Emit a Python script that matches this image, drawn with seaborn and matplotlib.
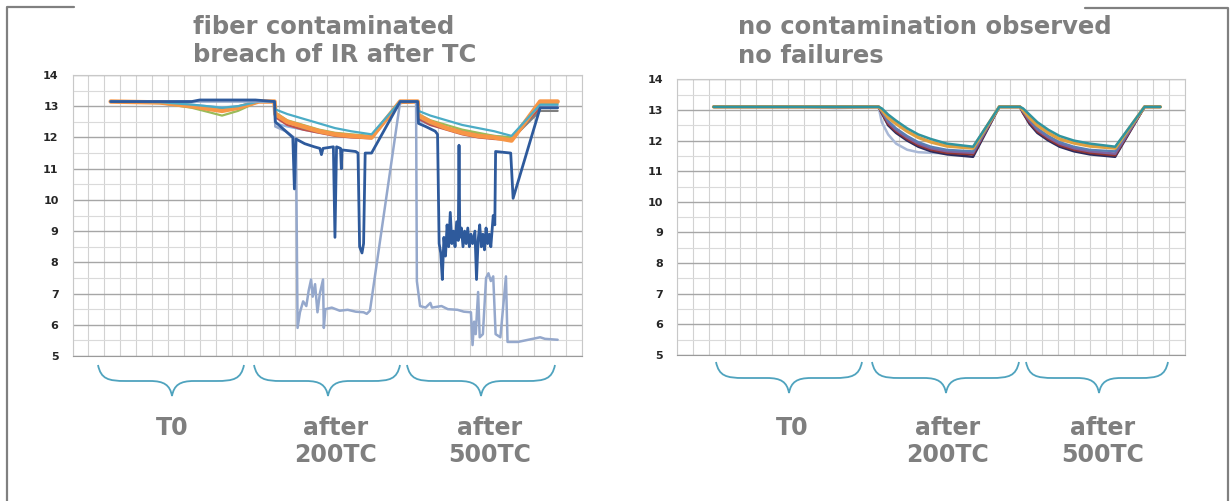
import matplotlib

matplotlib.use("Agg")

import matplotlib.pyplot as plt
import pandas as pd
import seaborn as sns
from matplotlib.lines import Line2D
from matplotlib.patches import PathPatch
from matplotlib.path import Path
from matplotlib.ticker import MultipleLocator

W, H = 1231, 501

# ---- left chart: normal fibres, shared sample positions ----
LEFT_X = [2.4, 5.5, 7.5, 8.5, 9.4, 10.4, 11.7, 12.7,
          12.75, 13.5, 14.5, 15.5, 16.5, 17.5, 18.8, 20.6, 21.7,
          21.75, 22.5, 23.5, 24.5, 25.5, 26.5, 27.6, 29.4, 30.5]
LEFT_LIGHTBLUE = [13.15, 13.13, 13.05, 13.0, 12.96, 13.0, 13.15, 13.15,
                  12.45, 12.35, 12.25, 12.15, 12.1, 12.05, 12.0, 13.1, 13.15,
                  12.55, 12.4, 12.3, 12.2, 12.1, 12.05, 12.0, 13.0, 13.0]
LEFT_RED = [13.15, 13.12, 13.02, 12.95, 12.9, 12.97, 13.15, 13.15,
            12.65, 12.4, 12.25, 12.15, 12.05, 12.0, 11.97, 13.1, 13.15,
            12.6, 12.4, 12.25, 12.1, 12.0, 11.95, 11.92, 12.95, 12.95]
LEFT_GRAY = [13.15, 13.12, 13.03, 12.97, 12.92, 12.98, 13.15, 13.15,
             12.7, 12.5, 12.3, 12.2, 12.1, 12.05, 12.0, 13.1, 13.15,
             12.65, 12.45, 12.3, 12.2, 12.1, 12.0, 11.95, 12.85, 12.85]
LEFT_GREEN = [13.15, 13.1, 12.95, 12.82, 12.7, 12.85, 13.15, 13.15,
              12.8, 12.55, 12.4, 12.25, 12.15, 12.1, 12.05, 13.15, 13.15,
              12.75, 12.55, 12.4, 12.25, 12.15, 12.05, 12.0, 13.1, 13.1]
LEFT_ORANGE = [13.15, 13.12, 13.0, 12.92, 12.85, 12.95, 13.15, 13.15,
               12.75, 12.5, 12.35, 12.2, 12.1, 12.05, 12.0, 13.15, 13.15,
               12.7, 12.5, 12.3, 12.15, 12.05, 12.0, 11.9, 13.15, 13.15]
LEFT_TEAL = [13.15, 13.13, 13.05, 13.0, 12.95, 13.0, 13.15, 13.15,
             12.9, 12.75, 12.6, 12.45, 12.3, 12.2, 12.1, 13.15, 13.15,
             12.85, 12.7, 12.55, 12.4, 12.3, 12.2, 12.05, 13.05, 13.05]

# ---- left chart: failing fibres ----
DARK_X = [2.4, 7.5, 8.0, 11.5, 12.7,
          12.75, 13.3, 13.85, 13.95, 14.05, 14.6, 15.2, 15.55, 15.65, 15.75,
          16.4, 16.5, 16.6, 16.85, 16.9, 16.95, 17.8, 17.95, 18.05, 18.2,
          18.3, 18.4, 18.8, 20.6, 21.7,
          21.75, 22.2, 22.8, 22.95, 23.05, 23.15, 23.25, 23.35, 23.45, 23.55,
          23.65, 23.75, 23.85, 23.95, 24.05, 24.15, 24.25, 24.3, 24.35, 24.45,
          24.55, 24.65, 24.75, 24.85, 24.95, 25.05, 25.15, 25.3, 25.4, 25.5,
          25.6, 25.7, 25.8, 25.9, 26.0, 26.1, 26.2, 26.3, 26.45, 26.55,
          26.6, 27.55, 27.7, 29.4, 30.5]
DARK_Y = [13.15, 13.15, 13.2, 13.2, 13.15,
          12.5, 12.25, 12.0, 10.35, 11.95, 11.8, 11.7, 11.65, 11.45, 11.65,
          11.7, 8.8, 11.7, 11.65, 11.0, 11.6, 11.55, 11.5, 8.5, 8.3,
          8.6, 11.5, 11.5, 13.15, 13.15,
          12.45, 12.35, 12.2, 12.1, 8.6, 8.3, 7.45, 8.8, 8.2, 9.2,
          8.5, 9.6, 8.6, 9.0, 8.5, 9.3, 8.7, 11.75, 8.8, 9.1,
          8.5, 9.0, 8.6, 9.1, 8.5, 8.9, 8.6, 9.0, 7.45, 8.7,
          9.2, 8.5, 8.9, 8.4, 9.1, 8.6, 8.9, 8.5, 9.5, 9.2,
          11.55, 11.5, 10.05, 12.95, 12.95]
PALE_X = [2.4, 12.7,
          12.75, 13.4, 14.05, 14.15, 14.3, 14.5, 14.7, 14.85, 15.0, 15.1,
          15.25, 15.4, 15.55, 15.75, 15.8, 15.9, 16.3, 16.8, 17.3, 17.8,
          18.3, 18.5, 18.7, 20.6, 21.6,
          21.65, 21.75, 21.85, 22.2, 22.5, 22.6, 23.2, 23.6, 24.2, 24.6,
          25.05, 25.15, 25.25, 25.35, 25.5, 25.6, 25.8, 26.0, 26.15, 26.3,
          26.45, 26.6, 26.9, 27.25, 27.35, 28.0, 29.4, 29.7, 30.5]
PALE_Y = [13.15, 13.15,
          12.35, 12.2, 11.95, 5.9, 6.4, 6.75, 6.6, 7.1, 7.45, 6.9,
          7.3, 6.4, 7.0, 7.45, 5.9, 6.5, 6.55, 6.45, 6.48, 6.42,
          6.4, 6.35, 6.45, 13.15, 13.15,
          7.4, 7.0, 6.6, 6.55, 6.7, 6.55, 6.6, 6.5, 6.48, 6.42,
          6.4, 5.35, 6.1, 5.7, 7.05, 5.6, 5.7, 7.5, 7.65, 7.4,
          7.55, 5.7, 5.6, 7.55, 5.45, 5.45, 5.6, 5.55, 5.52]

# ---- right chart: all fibres ----
RIGHT_X = [2.3, 8.0, 10.0, 12.7, 12.9, 13.3, 13.8, 14.5, 15.2, 16.0, 17.0, 18.65,
           20.3, 21.6, 21.8, 22.2, 22.7, 23.4, 24.1, 25.0, 26.0, 27.6, 29.45, 30.45]
RIGHT_PALE = [13.1, 13.1, 13.06, 13.1, 12.6, 12.2, 11.9, 11.7, 11.62, 11.6, 11.58, 11.55,
              13.1, 13.1, 12.95, 12.6, 12.35, 12.1, 11.9, 11.75, 11.65, 11.6, 13.1, 13.1]
RIGHT_NAVY = [13.1, 13.1, 13.1, 13.1, 12.9, 12.5, 12.25, 12.0, 11.8, 11.65, 11.55, 11.47,
              13.1, 13.1, 12.9, 12.55, 12.25, 12.0, 11.8, 11.65, 11.55, 11.47, 13.1, 13.1]
RIGHT_RED = [13.1, 13.1, 13.1, 13.1, 12.9, 12.55, 12.3, 12.05, 11.85, 11.7, 11.6, 11.55,
             13.1, 13.1, 12.9, 12.6, 12.3, 12.05, 11.85, 11.7, 11.6, 11.52, 13.1, 13.1]
RIGHT_PURPLE = [13.1, 13.1, 13.1, 13.1, 12.95, 12.6, 12.35, 12.1, 11.9, 11.75, 11.65, 11.6,
                13.1, 13.1, 12.95, 12.65, 12.35, 12.1, 11.9, 11.75, 11.65, 11.57, 13.1, 13.1]
RIGHT_STEEL = [13.1, 13.1, 13.1, 13.1, 12.95, 12.65, 12.4, 12.15, 11.95, 11.8, 11.7, 11.65,
               13.1, 13.1, 12.95, 12.7, 12.4, 12.15, 11.95, 11.8, 11.7, 11.65, 13.1, 13.1]
RIGHT_ORANGE = [13.1, 13.1, 13.1, 13.1, 13.0, 12.75, 12.55, 12.3, 12.1, 11.95, 11.82, 11.75,
                13.1, 13.1, 13.0, 12.75, 12.5, 12.25, 12.05, 11.92, 11.82, 11.75, 13.1, 13.1]
RIGHT_TEAL = [13.1, 13.1, 13.1, 13.1, 13.05, 12.85, 12.65, 12.4, 12.2, 12.05, 11.9, 11.8,
              13.1, 13.1, 13.05, 12.85, 12.6, 12.35, 12.15, 12.0, 11.9, 11.8, 13.1, 13.1]

LEFT_TITLE = ["fiber contaminated", "breach of IR after TC"]
RIGHT_TITLE = ["no contamination observed", "no failures"]
GROUP_LABELS = ["T0", "after\n200TC", "after\n500TC"]

TEXT_GRAY = "#7F7F7F"
BRACE_COLOR = "#4FA3BE"


def fig_xy(x, y):
    return x / W, 1 - y / H


def draw_series(ax, x, y, color, lw=1.6):
    df = pd.DataFrame({"x": x, "y": y})
    sns.lineplot(data=df, x="x", y="y", ax=ax, color=color, lw=lw,
                 estimator=None, sort=False)


def style_axes(ax):
    ax.set_xlim(0, 32)
    ax.set_ylim(5, 14)
    ax.xaxis.set_major_locator(MultipleLocator(5))
    ax.xaxis.set_minor_locator(MultipleLocator(1))
    ax.yaxis.set_major_locator(MultipleLocator(1))
    ax.yaxis.set_minor_locator(MultipleLocator(0.5))
    ax.grid(which="major", axis="y", color="#A6A6A6", lw=1.0)
    ax.grid(which="minor", axis="y", color="#DADADA", lw=0.8)
    ax.grid(which="both", axis="x", color="#D2D2D2", lw=0.8)
    ax.set_axisbelow(True)
    ax.tick_params(axis="x", which="major", length=4, color="#A0A0A0", labelbottom=False)
    ax.tick_params(axis="x", which="minor", length=0)
    ax.tick_params(axis="y", which="major", length=4, color="#A0A0A0", pad=6,
                   labelsize=8, labelcolor="#262626")
    ax.tick_params(axis="y", which="minor", length=0)
    for label in ax.get_yticklabels():
        label.set_fontweight("bold")
    for side in ["top", "right", "left"]:
        ax.spines[side].set_color("#C8C8C8")
    ax.spines["bottom"].set_color("#9A9A9A")
    ax.set_xlabel("")
    ax.set_ylabel("")


def draw_brace(fig, x0, x1, xt, ytop, ymid, ytip):
    pts = [
        (x0, ytop), (x0 + 3, ymid - 2), (x0 + 10, ymid), (x0 + 28, ymid),
        (xt - 22, ymid),
        (xt - 8, ymid), (xt - 2, ymid + 4), (xt, ytip),
        (xt + 2, ymid + 4), (xt + 8, ymid), (xt + 22, ymid),
        (x1 - 28, ymid),
        (x1 - 10, ymid), (x1 - 3, ymid - 2), (x1, ytop),
    ]
    codes = [Path.MOVETO, Path.CURVE4, Path.CURVE4, Path.CURVE4,
             Path.LINETO,
             Path.CURVE4, Path.CURVE4, Path.CURVE4,
             Path.CURVE4, Path.CURVE4, Path.CURVE4,
             Path.LINETO,
             Path.CURVE4, Path.CURVE4, Path.CURVE4]
    path = Path([fig_xy(x, y) for x, y in pts], codes)
    fig.add_artist(PathPatch(path, fill=False, edgecolor=BRACE_COLOR, lw=1.3,
                             transform=fig.transFigure))


def main():
    sns.set_style("white")
    plt.rcParams["font.family"] = ["DejaVu Sans"]

    fig = plt.figure(figsize=(W / 100, H / 100), dpi=100)
    fig.patch.set_facecolor("white")

    ax_left = fig.add_axes([72.5 / W, (H - 356) / H, 509 / W, 281 / H])
    ax_right = fig.add_axes([677 / W, (H - 355) / H, 508 / W, 275.7 / H])

    for y, color, lw in [
        (LEFT_LIGHTBLUE, "#8EB4E3", 1.6),
        (LEFT_RED, "#C0504D", 1.6),
        (LEFT_GRAY, "#7F7F7F", 1.6),
        (LEFT_GREEN, "#9BBB59", 1.6),
        (LEFT_ORANGE, "#F79646", 3.2),
        (LEFT_TEAL, "#4BACC6", 1.6),
    ]:
        draw_series(ax_left, LEFT_X, y, color, lw)
    draw_series(ax_left, PALE_X, PALE_Y, "#95A8CC", 1.8)
    draw_series(ax_left, DARK_X, DARK_Y, "#2E5A9C", 2.0)

    for y, color, lw in [
        (RIGHT_PALE, "#A9B8D6", 1.8),
        (RIGHT_NAVY, "#2B2B5E", 1.8),
        (RIGHT_RED, "#943634", 1.8),
        (RIGHT_PURPLE, "#7F63A0", 1.8),
        (RIGHT_STEEL, "#5A7FB5", 1.6),
        (RIGHT_ORANGE, "#E0A040", 2.4),
        (RIGHT_TEAL, "#31949E", 1.8),
    ]:
        draw_series(ax_right, RIGHT_X, y, color, lw)

    style_axes(ax_left)
    style_axes(ax_right)

    title_kw = dict(ha="left", va="top", fontsize=17.5, fontweight="bold", color=TEXT_GRAY)
    fig.text(*fig_xy(193, 15), LEFT_TITLE[0], **title_kw)
    fig.text(*fig_xy(193, 43), LEFT_TITLE[1], **title_kw)
    fig.text(*fig_xy(738, 15), RIGHT_TITLE[0], **title_kw)
    fig.text(*fig_xy(738, 44), RIGHT_TITLE[1], **title_kw)

    label_kw = dict(ha="center", va="top", fontsize=17, fontweight="bold", color=TEXT_GRAY,
                    linespacing=1.15)
    for cx, label in zip([172, 336, 490], GROUP_LABELS):
        fig.text(*fig_xy(cx, 416), label, **label_kw)
    for cx, label in zip([792, 948, 1103], GROUP_LABELS):
        fig.text(*fig_xy(cx, 416), label, **label_kw)

    for x0, x1, xt in [(98, 244, 172), (254, 400, 328), (407, 555, 481)]:
        draw_brace(fig, x0, x1, xt, 365, 381, 396)
    for x0, x1, xt in [(716, 862, 789), (872, 1019, 946), (1026, 1168, 1099)]:
        draw_brace(fig, x0, x1, xt, 362, 378, 393)

    frame_kw = dict(color="#808080", lw=1.6, transform=fig.transFigure)
    fig.add_artist(Line2D(*zip(fig_xy(7, 501), fig_xy(7, 7), fig_xy(74, 7)), **frame_kw))
    fig.add_artist(Line2D(*zip(fig_xy(1085, 8), fig_xy(1228, 8), fig_xy(1228, 501)), **frame_kw))

    fig.savefig("out.png", dpi=100, facecolor="white")
    plt.close(fig)


if __name__ == "__main__":
    main()
